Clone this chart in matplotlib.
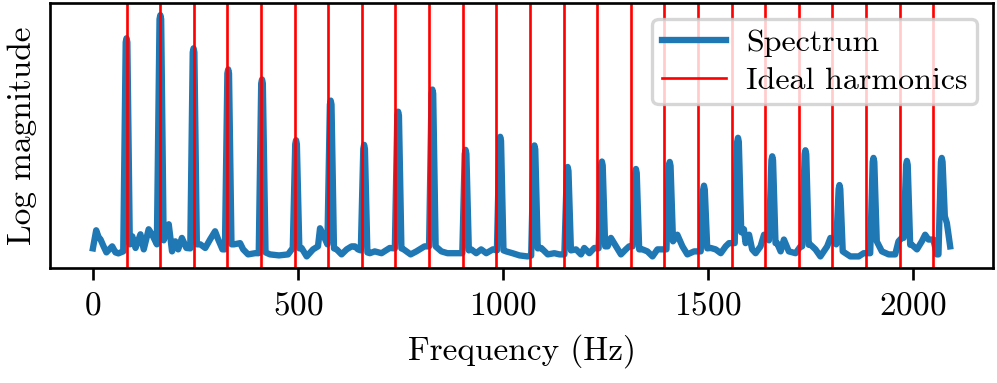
import matplotlib
matplotlib.use('Agg')
import matplotlib.pyplot as plt

plt.rcParams['font.family'] = 'serif'
plt.rcParams['font.serif'] = ['cmr10']
plt.rcParams['axes.formatter.use_mathtext'] = True
plt.rcParams['font.size'] = 10

# spectrum (Hz, arbitrary log units)
freq_hz = [
    0, 8, 14, 18.5, 26, 33, 47, 55, 62,
    74, 80, 82, 84, 90,
    96, 104, 116, 124, 136, 144,
    156, 162.5, 164.5, 166.5, 172.5,
    185, 193, 201, 208, 217, 228,
    237.5, 243.5, 245.5, 247.5, 253.5,
    262, 274, 286, 298, 305.5, 316,
    322, 328, 330, 332, 338,
    344, 359, 366.5, 378.5, 395.5,
    404.5, 410.5, 412.5, 414.5, 421,
    432, 454, 476, 483,
    487.5, 493.5, 495.5, 497.5, 503.5,
    509, 521.5, 537, 549, 554, 561,
    572, 578, 580, 582, 588,
    594.5, 606.5, 619, 631, 639, 646.5,
    653.5, 659.5, 661.5, 663.5, 669.5,
    675.5, 687.5, 704, 724,
    736.5, 742.5, 744.5, 746.5, 752.5,
    758, 775, 789, 809,
    820, 826, 828, 830, 836,
    850, 865, 886.5,
    901, 907, 909, 911, 917,
    923, 935, 947, 959.5, 975.5,
    985.5, 991.5, 993.5, 995.5, 1001.5,
    1008, 1023.5, 1040.5, 1060,
    1069, 1075, 1077, 1079, 1085,
    1093.5, 1109.5, 1125.5, 1138,
    1150, 1156, 1158, 1160, 1166,
    1178.5, 1190.5, 1198.5, 1211, 1223,
    1233.5, 1239.5, 1241.5, 1243.5, 1249.5,
    1255.5, 1263.5, 1276, 1288, 1300, 1308,
    1316.5, 1322.5, 1324.5, 1326.5, 1332.5,
    1340.5, 1352.5, 1365, 1377, 1389,
    1399, 1405, 1407, 1409, 1415,
    1425.5, 1438, 1450, 1466.5,
    1482.5, 1488.5, 1490.5, 1492.5, 1498.5,
    1507, 1519, 1531.5, 1543.5, 1551.5,
    1565.5, 1571.5, 1573.5, 1575.5, 1581.5,
    1588, 1592, 1600.5, 1608, 1616.5, 1628.5, 1637,
    1649, 1655, 1657, 1659, 1665,
    1669, 1677.5, 1685.5, 1697.5, 1714, 1726,
    1730, 1736, 1738, 1740, 1746,
    1750.5, 1762.5, 1774.5, 1791, 1799,
    1813, 1819, 1821, 1823, 1829,
    1847.5, 1868, 1880,
    1896, 1902, 1904, 1906, 1912,
    1924.5, 1941, 1957, 1965, 1973,
    1977.5, 1983.5, 1985.5, 1987.5, 1993.5,
    1997.5, 2010, 2022, 2030, 2038, 2050, 2058.5,
    2062.5, 2068.5, 2070.5, 2072.5, 2078,
    2083, 2091,
]
log_mag = [
    2.0, 6.5, 4.75, 4.25, 2.5, 1.0, 2.5, 1.0, 0.75,
    1.25, 53.25, 54.25, 53.25, 3.0,
    5.0, 2.1, 5.5, 1.75, 6.75, 5.5,
    3.0, 59.0, 60.0, 59.0, 4.0,
    8.0, 1.25, 3.75, 1.75, 4.6, 2.1,
    2.0, 50.75, 51.75, 50.75, 3.0,
    3.0, 2.1, 4.25, 6.25, 4.25, 1.75,
    1.75, 45.5, 46.5, 45.5, 3.0,
    3.0, 3.3, 1.75, 0.5, 0.8,
    0.8, 43.0, 44.0, 43.0, 1.0,
    0.5, 0.25, 0.5, 1.5,
    2.1, 27.9, 28.9, 27.9, 2.0,
    2.1, 0.0, 1.75, 2.5, 7.0, 5.5,
    3.0, 37.75, 38.75, 37.75, 2.0,
    1.75, 0.5, 1.75, 2.5, 2.5, 1.75,
    1.5, 26.75, 27.75, 26.75, 1.0,
    0.8, 1.25, 0.8, 2.1,
    2.0, 35.0, 36.0, 35.0, 2.0,
    1.75, 0.5, 1.25, 2.5,
    2.5, 40.5, 41.5, 40.5, 2.5,
    1.25, 0.8, 0.8,
    0.8, 25.5, 26.5, 25.5, 1.5,
    1.75, 0.8, 1.75, 0.8, 1.75,
    1.5, 28.75, 29.75, 28.75, 1.5,
    1.25, 0.8, 0.25, 0.0,
    0.2, 26.6, 27.6, 26.6, 2.0,
    2.1, 0.5, 0.8, 0.5,
    0.5, 21.25, 22.25, 21.25, 1.5,
    1.75, 0.5, 2.1, 0.8, 2.1,
    2.0, 22.6, 23.6, 22.6, 2.5,
    2.5, 4.6, 2.5, 0.5, 1.75, 2.5,
    2.5, 20.75, 21.75, 20.75, 1.75,
    1.75, 1.25, 0.0, 1.75, 1.75,
    1.75, 22.5, 23.5, 22.5, 3.75,
    5.4, 2.5, 0.5, 1.25,
    1.25, 16.6, 17.6, 16.6, 2.0,
    2.1, 1.75, 0.8, 2.5, 3.3,
    3.3, 28.5, 29.5, 28.5, 6.0,
    6.75, 3.3, 5.4, 1.75, 0.8, 2.5, 5.4,
    4.0, 23.9, 24.9, 23.9, 3.3,
    3.3, 1.25, 4.2, 1.25, 0.8, 2.5,
    2.5, 25.4, 26.4, 25.4, 2.9,
    2.9, 1.75, 0.0, 2.5, 4.6,
    3.0, 16.75, 17.75, 16.75, 1.25,
    0.0, 0.0, 0.8,
    0.8, 23.5, 24.5, 23.5, 3.75,
    1.25, 0.5, 0.5, 3.75, 4.6,
    4.6, 22.75, 23.75, 22.75, 2.9,
    2.9, 1.75, 3.75, 5.4, 4.2, 4.2, 0.5,
    0.5, 23.5, 24.5, 23.5, 10.0,
    8.3, 2.5,
]

# ideal harmonics of f0 = 82 Hz
harmonics_hz = [82, 164, 246, 328, 410, 492, 574, 656, 738, 820, 902, 984,
                1066, 1148, 1230, 1312, 1394, 1476, 1558, 1640, 1722, 1804,
                1886, 1968, 2050]

fig, ax = plt.subplots(figsize=(997/240, 383/240), dpi=240)
fig.subplots_adjust(left=0.0502, right=0.996, top=0.992, bottom=0.299)

ax.plot(freq_hz, log_mag, lw=1.9, label='Spectrum')
for i, h in enumerate(harmonics_hz):
    ax.axvline(h, color='r', lw=0.8, label='Ideal harmonics' if i == 0 else None)

ax.set_yticks([])
ax.set_xlabel('Frequency (Hz)')
ax.set_ylabel('Log magnitude')
ax.legend(loc='upper right', fontsize=9.6, labelspacing=0.29, borderpad=0.3,
          handlelength=2.0, handletextpad=0.62)

fig.savefig('out.png', dpi=240)
